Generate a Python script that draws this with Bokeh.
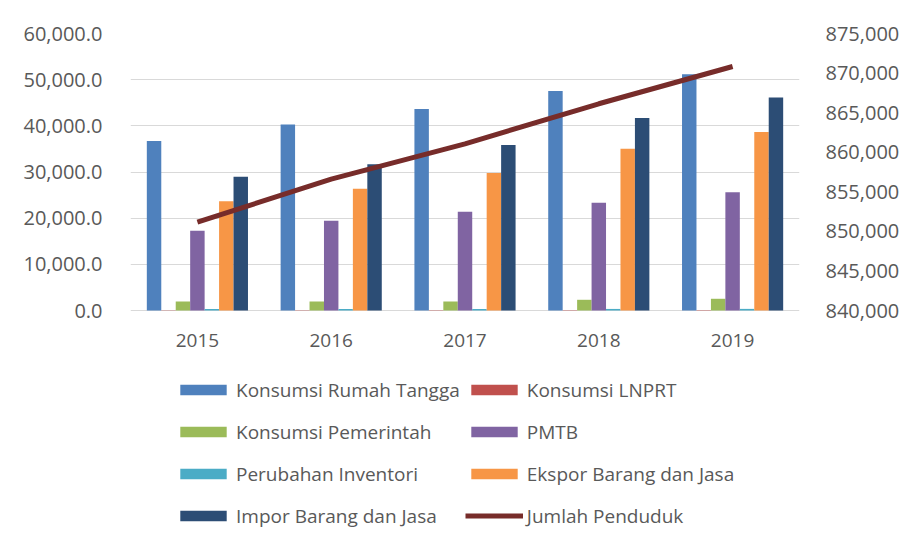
from bokeh.plotting import figure
from bokeh.models import (Range1d, LinearAxis, NumeralTickFormatter, FactorRange,
                          Legend, LegendItem, ColumnDataSource, FixedTicker)
from bokeh.core.properties import value
from bokeh.transform import dodge
from bokeh.embed import file_html
from bokeh.resources import INLINE

years = ["2015", "2016", "2017", "2018", "2019"]
konsumsi_rt = [36700, 40270, 43650, 47550, 51170]
konsumsi_lnprt = [60, 65, 70, 75, 80]
konsumsi_pem = [1950, 1950, 1950, 2320, 2540]
pmtb = [17280, 19450, 21400, 23350, 25590]
inventori = [300, 320, 330, 340, 350]
ekspor = [23640, 26390, 29770, 35060, 38670]
impor = [28990, 31660, 35850, 41700, 46120]
penduduk = [851160, 856590, 861060, 866120, 870830]

left_ticks = [0, 10000, 20000, 30000, 40000, 50000, 60000]
right_ticks = [840000, 845000, 850000, 855000, 860000, 865000, 870000, 875000]

series = [
    ("Konsumsi Rumah Tangga", "rt", "#4F81BD"),
    ("Konsumsi LNPRT", "lnprt", "#C0504D"),
    ("Konsumsi Pemerintah", "pem", "#9BBB59"),
    ("PMTB", "pmtb", "#8064A2"),
    ("Perubahan Inventori", "inv", "#4BACC6"),
    ("Ekspor Barang dan Jasa", "eks", "#F79646"),
    ("Impor Barang dan Jasa", "imp", "#2C4D75"),
]

FONT = "Open Sans"
TXT = "#595959"
GRID = "#d9d9d9"

src = ColumnDataSource(dict(
    year=years, rt=konsumsi_rt, lnprt=konsumsi_lnprt, pem=konsumsi_pem,
    pmtb=pmtb, inv=inventori, eks=ekspor, imp=impor, pen=penduduk))

# layout: plot area spans down to the bottom so the legend fits inside it;
# the value axes are aligned so 0 / 840,000 lie 277px below the top tick.
W, H = 902, 540
TOP, LEFT, RIGHT = 33, 130, 97
AXIS_PX = 277                       # pixel height of 0..60,000
frame_h = H - TOP
lmin, lmax = left_ticks[0], left_ticks[-1]
rmin, rmax = right_ticks[0], right_ticks[-1]
y_lo = lmin - (lmax - lmin) * (frame_h - AXIS_PX) / AXIS_PX
r_lo = rmin - (rmax - rmin) * (frame_h - AXIS_PX) / AXIS_PX

p = figure(x_range=FactorRange(*years), y_range=Range1d(y_lo, lmax),
           width=W, height=H, x_axis_location=None,
           output_backend="svg", toolbar_location=None,
           min_border_left=LEFT, min_border_top=TOP, min_border_right=RIGHT,
           min_border_bottom=0)
p.outline_line_color = None
p.extra_y_ranges = {"pop": Range1d(r_lo, rmax)}

bw = 0.108
items = []
for i, (name, k, color) in enumerate(series):
    r = p.vbar(x=dodge("year", (i - 3) * bw, range=p.x_range), top=k, width=bw,
               source=src, fill_color=color, line_color=None)
    items.append(LegendItem(label=name, renderers=[r]))

ln = p.line(x="year", y="pen", source=src, y_range_name="pop",
            line_color="#772C2A", line_width=5)
items.append(LegendItem(label="Jumlah Penduduk", renderers=[ln]))

# category labels just under the zero line
p.text(x="year", y=lmin, text="year", source=src, y_offset=30,
       text_align="center", text_baseline="middle",
       text_font=value(FONT), text_font_size="19px", text_color=TXT)

# column-major legend: left column = even items, right column = odd items
ordered = items[0::2] + items[1::2]

# axes
p.yaxis.ticker = FixedTicker(ticks=left_ticks)
p.yaxis.formatter = NumeralTickFormatter(format="0,0.0")
ra = LinearAxis(y_range_name="pop", ticker=FixedTicker(ticks=right_ticks),
                formatter=NumeralTickFormatter(format="0,0"))
p.add_layout(ra, "right")

for ax in [p.yaxis[0], ra]:
    ax.axis_line_color = None
    ax.major_tick_line_color = None
    ax.minor_tick_line_color = None
    ax.major_label_text_font = FONT
    ax.major_label_text_font_size = "20px"
    ax.major_label_text_color = TXT
p.yaxis[0].major_label_standoff = 22
ra.major_label_standoff = 20

p.xgrid.grid_line_color = None
p.ygrid.grid_line_color = GRID
p.ygrid.ticker = FixedTicker(ticks=left_ticks)

legend = Legend(items=ordered, orientation="vertical", nrows=4,
                location=(44, 6), label_text_font=FONT,
                label_text_font_size="19px", label_text_color=TXT,
                glyph_width=58, glyph_height=13, label_height=37,
                label_width=200,
                label_standoff=4, spacing=5, padding=0, margin=0,
                border_line_color=None, background_fill_alpha=0)
p.add_layout(legend, "center")

open("out.html", "w").write(file_html(p, INLINE))
